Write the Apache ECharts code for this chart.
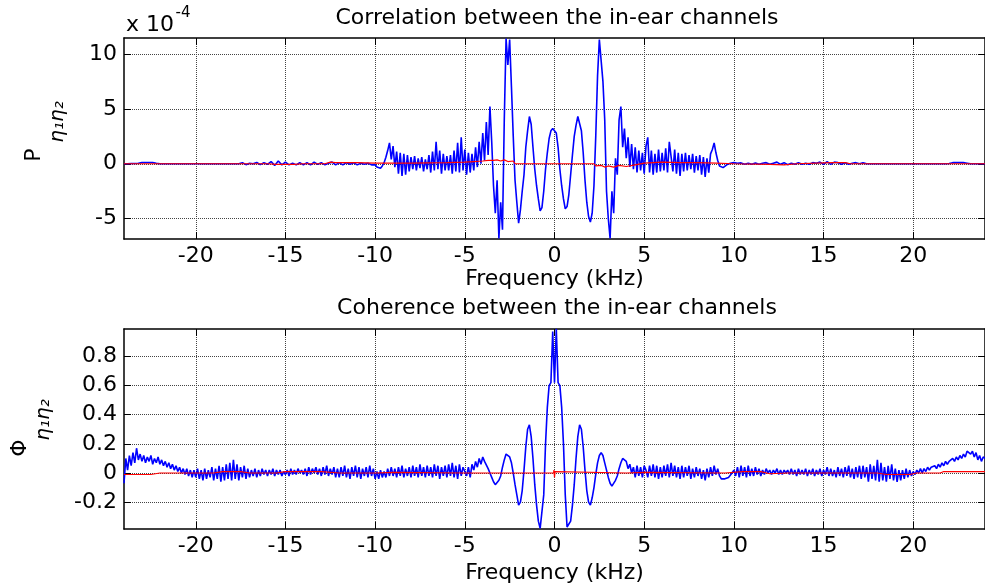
<!DOCTYPE html>
<html lang="en">
<head>
<meta charset="UTF-8">
<title>In-ear channels</title>
<script src="https://cdn.jsdelivr.net/npm/echarts@6/dist/echarts.min.js"></script>
<style>
html, body { margin: 0; padding: 0; background: #fff; }
#chart { width: 985px; height: 585px; }
</style>
</head>
<body>
<div id="chart"></div>
<script>
// tick positions
var freqTicks = [-20, -15, -10, -5, 0, 5, 10, 15, 20];
var corrTicks = [-5, 0, 5, 10];               // x 10^-4
var cohTicks = [-0.2, 0, 0.2, 0.4, 0.6, 0.8];

// correlation (x 10^-4), blue trace
// -24.0 .. -10.2 kHz every 0.2
var corrLeft = [
  0, 0, 0.02, 0.02, 0.05, 0.12, 0.12, 0.12, 0.12, 0.05,
  0, 0, 0, 0, 0, 0, 0, 0, 0, 0,
  0, 0, 0, 0, 0, 0, 0, 0, 0, 0,
  0, 0, 0, 0.1, -0.08, 0.05, 0, 0.12, -0.08, 0.1,
  -0.05, 0.2, -0.15, 0.25, -0.1, 0.15, -0.1, 0.05, -0.1, 0.1,
  -0.1, 0.1, -0.1, 0.15, -0.05, 0.1, -0.1, 0.05, 0.15, -0.1,
  0.1, -0.1, 0.1, -0.05, 0.1, -0.1, 0.05, -0.05, 0.05, -0.1
];
// -10.0 .. 10.0 kHz every 0.1
var corrCore = [
  -0.1, -0.3, -0.45, -0.4, -0.2, 0.1, 0.6, 1.2, 1.9, 0.4,
  1.6, -0.3, 1.1, -0.9, 1.0, -1.1, 0.9, -1.0, 0.8, -0.7,
  0.6, -0.5, 0.7, -0.6, 0.5, -0.4, 0.6, -0.7, 0.4, -0.5,
  0.8, -0.8, 1.1, -0.6, 2.0, -0.5, 1.2, -0.9, 0.9, -0.6,
  0.7, -0.6, 0.8, -0.9, 1.2, -0.7, 1.9, -0.8, 2.4, -0.6,
  1.3, -1.0, 1.0, -0.8, 0.9, -0.6, 1.5, -0.3, 2.0, 0.0,
  2.8, 0.3, 3.8, 0.8, 5.2, 2.0, -2.0, -4.5, -1.5, -6.8,
  -3.5, -6.0, 4.0, 11.4, 9.0, 11.3, 7.0, 2.5, -1.5, -3.5,
  -5.4, -4.2, -2.5, -1.0, 1.5, 3.0, 4.3, 3.6, 1.5, -0.5,
  -2.0, -3.2, -4.3, -4.0, -2.5, -0.5, 1.0, 2.3, 3.0, 3.2,
  3.1, 2.8, 1.5, -0.5, -2.0, -3.2, -4.1, -3.9, -2.8, -1.0,
  0.8, 2.5, 3.5, 4.3, 4.2, 3.0, 1.0, -1.5, -3.5, -4.8,
  -5.3, -4.5, -2.0, 2.5, 8.0, 11.3, 11.4, 7.5, 4.0, -2.5,
  -5.0, -6.8, -2.5, -4.5, 0.5, -1.0, 4.0, 5.2, 1.5, 3.2,
  0.5, 2.4, -0.3, 1.8, -0.5, 1.5, -0.8, 1.2, -0.6, 1.0,
  -0.9, 1.6, 2.4, -0.8, 1.2, -1.0, 0.9, -0.8, 1.3, -0.7,
  1.0, -0.6, 1.4, -0.8, 2.0, 2.1, -0.7, 1.3, -0.9, 1.0,
  -1.1, 0.9, -0.7, 1.0, -0.6, 0.8, -0.5, 0.9, -0.8, 0.7,
  -0.6, 0.8, -1.0, 0.6, -1.2, 0.5, -0.8, 0.9, 1.3, 1.9,
  1.0, 0.3, -0.2, -0.3, -0.35, -0.2, -0.1, 0, 0.05, 0.05,
  0.1
];
// 10.2 .. 24.0 kHz every 0.2
var corrRight = [
  0.05, 0.08, -0.05, 0.05, -0.05, 0.08, -0.05, 0.05, 0.1, -0.05,
  0.05, 0.15, -0.05, 0.1, -0.08, 0.05, -0.05, 0.1, -0.05, 0.05,
  -0.05, 0.1, 0.05, 0.15, -0.05, 0.2, -0.05, 0.15, 0.1, -0.05,
  0.1, -0.05, 0.05, 0.1, 0, 0.08, 0, 0, 0, 0,
  0, 0, 0, 0, 0, 0, 0, 0, 0, 0,
  0, 0, 0, 0, 0, 0, 0, 0, 0, 0.02,
  0.1, 0.1, 0.1, 0.1, 0.05, 0, 0, 0, 0, 0
];
// correlation, red trace [kHz, x 10^-4]
var corrRed = [
  [-24, 0], [-16, 0], [-15.5, -0.05], [-14.5, -0.05], [-14, 0], [-12.8, 0], [-12.5, 0.15],
  [-12.2, 0.1], [-11, 0.1], [-10, 0.05], [-8, 0.05], [-6, 0.1], [-5, 0.15], [-4.5, 0.2],
  [-4.0, 0.25], [-3.7, 0.3], [-3.6, 0.15], [-3.4, 0.3], [-3.2, 0.35], [-3.0, 0.25],
  [-2.8, 0.35], [-2.6, 0.2], [-2.3, 0.25], [-2.2, 0], [2.2, 0], [2.3, -0.2], [2.6, -0.15],
  [2.8, -0.3], [3.0, -0.2], [3.3, -0.3], [3.6, -0.15], [4.0, -0.25], [4.5, -0.1], [5.0, 0.05],
  [6, 0.15], [7, 0.1], [8, 0.1], [9, 0.05], [10, 0], [12, -0.05], [12.8, -0.1], [13.5, 0],
  [15.5, 0.1], [16.2, 0.1], [16.5, 0], [24, 0]
];

// coherence, blue trace
// -24.0 .. -5.1 kHz every 0.1
var cohLeft = [
  -0.07, 0.1, 0.02, 0.12, 0.05, 0.14, 0.07, 0.17, 0.09, 0.13,
  0.08, 0.12, 0.07, 0.11, 0.08, 0.12, 0.06, 0.1, 0.07, 0.11,
  0.06, 0.09, 0.05, 0.08, 0.04, 0.07, 0.03, 0.06, 0.02, 0.05,
  0.01, 0.04, 0.0, 0.03, -0.01, 0.03, -0.02, 0.02, -0.03, 0.02,
  -0.03, 0.03, -0.04, 0.02, -0.05, 0.03, -0.04, 0.02, -0.03, 0.04,
  -0.05, 0.03, -0.04, 0.05, -0.06, 0.04, -0.05, 0.06, -0.04, 0.07,
  -0.05, 0.09, -0.04, 0.06, -0.05, 0.04, -0.03, 0.05, -0.04, 0.03,
  -0.03, 0.02, -0.02, 0.03, -0.03, 0.02, -0.02, 0.03, -0.01, 0.02,
  -0.02, 0.02, -0.01, 0.03, -0.02, 0.02, -0.01, 0.02, -0.02, 0.01,
  -0.01, 0.02, -0.02, 0.03, -0.01, 0.02, -0.01, 0.03, 0.0, 0.02,
  -0.01, 0.03, -0.02, 0.04, -0.01, 0.03, 0.0, 0.04, -0.01, 0.03,
  -0.02, 0.04, -0.01, 0.05, -0.02, 0.03, -0.01, 0.04, -0.03, 0.03,
  -0.03, 0.04, -0.02, 0.05, -0.03, 0.03, -0.04, 0.04, -0.02, 0.05,
  -0.03, 0.04, -0.04, 0.03, -0.02, 0.04, -0.03, 0.05, -0.02, 0.03,
  -0.04, 0.01, -0.04, 0.02, -0.03, 0.01, -0.03, 0.03, -0.02, 0.04,
  -0.02, 0.03, -0.03, 0.04, -0.02, 0.05, -0.03, 0.03, -0.02, 0.04,
  -0.03, 0.05, -0.02, 0.04, -0.03, 0.06, -0.02, 0.04, -0.03, 0.05,
  -0.02, 0.04, -0.03, 0.06, -0.02, 0.05, -0.04, 0.04, -0.02, 0.05,
  -0.03, 0.06, -0.02, 0.07, -0.03, 0.05, -0.04, 0.06, -0.02, 0.04
];
// -5.0 .. 5.0 kHz every 0.1
var cohCore = [
  0.05, -0.02, 0.04, -0.03, 0.06, 0.02, 0.08, 0.04, 0.1, 0.06,
  0.11, 0.08, 0.07, 0.03, 0.0, -0.03, -0.06, -0.08, -0.09, -0.05,
  -0.02, 0.04, 0.09, 0.13, 0.14, 0.11, 0.07, 0.0, -0.08, -0.15,
  -0.22, -0.2, -0.12, 0.02, 0.18, 0.3, 0.33, 0.25, 0.1, -0.08,
  -0.22, -0.33, -0.38, -0.37, -0.15, 0.2, 0.45, 0.6, 0.62, 0.97,
  0.62, 0.99, 0.62, 0.6, 0.45, 0.2, -0.15, -0.37, -0.38, -0.33,
  -0.22, -0.08, 0.1, 0.25, 0.33, 0.3, 0.18, 0.02, -0.12, -0.2,
  -0.22, -0.17, -0.1, -0.01, 0.07, 0.12, 0.14, 0.12, 0.07, 0.02,
  -0.03, -0.07, -0.09, -0.08, -0.05, -0.02, 0.03, 0.07, 0.1, 0.11,
  0.08, 0.03, 0.06, 0.0, 0.04, -0.03, 0.05, -0.02, 0.04, -0.03,
  0.05
];
// 5.1 .. 24.0 kHz every 0.1
var cohRight = [
  0.02, -0.03, 0.05, -0.02, 0.06, -0.03, 0.05, -0.04, 0.04, -0.03,
  0.05, -0.02, 0.06, -0.03, 0.07, -0.02, 0.05, -0.03, 0.04, -0.04,
  0.05, -0.03, 0.04, -0.02, 0.05, -0.04, 0.03, -0.03, 0.04, -0.02,
  0.03, -0.04, 0.02, -0.05, 0.03, -0.03, 0.04, -0.02, 0.05, -0.01,
  0.03, -0.02, -0.04, -0.05, -0.04, -0.05, -0.03, -0.02, 0.0, 0.02,
  -0.02, 0.04, -0.03, 0.05, -0.02, 0.04, -0.03, 0.05, -0.02, 0.03,
  -0.02, 0.04, -0.01, 0.03, -0.02, 0.02, -0.01, 0.03, 0.0, 0.02,
  -0.01, 0.02, 0.0, 0.03, -0.01, 0.02, -0.01, 0.02, 0.0, 0.02,
  -0.01, 0.03, -0.01, 0.02, -0.02, 0.03, -0.01, 0.02, -0.01, 0.03,
  -0.02, 0.02, -0.01, 0.03, -0.02, 0.02, -0.01, 0.03, -0.02, 0.02,
  -0.01, 0.04, -0.02, 0.03, -0.02, 0.02, -0.03, 0.04, -0.02, 0.03,
  -0.03, 0.04, -0.02, 0.05, -0.03, 0.03, -0.04, 0.04, -0.03, 0.05,
  -0.04, 0.05, -0.03, 0.04, -0.06, 0.06, -0.04, 0.05, -0.05, 0.09,
  -0.06, 0.07, -0.05, 0.04, -0.06, 0.05, -0.04, 0.06, -0.05, 0.03,
  -0.06, 0.02, -0.05, 0.02, -0.04, 0.03, -0.03, 0.02, -0.02, 0.01,
  -0.01, 0.02, 0.0, 0.03, 0.0, 0.03, 0.01, 0.04, 0.02, 0.04,
  0.03, 0.05, 0.03, 0.06, 0.04, 0.07, 0.05, 0.08, 0.06, 0.08,
  0.07, 0.1, 0.08, 0.11, 0.09, 0.12, 0.1, 0.13, 0.11, 0.15,
  0.16, 0.13, 0.15, 0.11, 0.14, 0.09, 0.12, 0.08, 0.11, 0.1
];
// coherence, red trace [kHz, value]
var cohRed = [
  [-24, -0.01], [-22.5, -0.01], [-22, 0], [-19, 0], [-18.5, 0.01], [-17.5, 0.01], [-17, 0],
  [-15.5, 0], [-15, 0.01], [-13, 0.01], [-12, 0], [-10, 0], [-9, 0.005], [-5, 0],
  [-0.05, 0], [-0.03, 0.02], [0, -0.03], [0.03, 0.01], [0.05, 0], [4, 0], [5, 0.005],
  [9.5, 0], [10.5, 0.01], [11.5, 0.01], [12, -0.005], [13, 0], [18, 0], [18.5, -0.01],
  [19.8, -0.01], [20.2, 0], [21.5, 0], [21.7, 0.01], [24, 0.01]
];

function block(start, step, vals) {
  return vals.map(function (v, i) { return [+(start + step * i).toFixed(2), v]; });
}
var corrBlue = block(-24, 0.2, corrLeft).concat(block(-10, 0.1, corrCore), block(10.2, 0.2, corrRight));
var cohBlue = block(-24, 0.1, cohLeft).concat(block(-5, 0.1, cohCore), block(5.1, 0.1, cohRight));

var FONT = 'DejaVu Sans';
var txt = { color: '#000', fontFamily: FONT, fontSize: 22 };

function xAx(grid, pos, main, gap) {
  return {
    type: 'value', gridIndex: grid, position: pos, min: -24, max: 24,
    axisLine: { show: true, onZero: false, lineStyle: { color: '#000', width: 1.5 } },
    axisTick: { show: true, inside: true, length: 7, customValues: freqTicks, lineStyle: { color: '#000' } },
    axisLabel: Object.assign({ show: main, margin: 6, customValues: freqTicks }, txt),
    splitLine: { show: main, lineStyle: { color: '#444', type: 'dotted', width: 1 } },
    name: main ? 'Frequency (kHz)' : '', nameLocation: 'middle', nameGap: gap,
    nameTextStyle: txt
  };
}
function yAx(grid, pos, main, lo, hi, ticks) {
  return {
    type: 'value', gridIndex: grid, position: pos, min: lo, max: hi,
    axisLine: { show: true, onZero: false, lineStyle: { color: '#000', width: 1.5 } },
    axisTick: { show: true, inside: true, length: 7, customValues: ticks, lineStyle: { color: '#000' } },
    axisLabel: Object.assign({ show: main, margin: 7, customValues: ticks }, txt),
    splitLine: { show: main, lineStyle: { color: '#444', type: 'dotted', width: 1 } }
  };
}
function line(data, color, width, xi, yi) {
  return {
    type: 'line', data: data, xAxisIndex: xi, yAxisIndex: yi,
    showSymbol: false, symbol: 'none', silent: true,
    lineStyle: { color: color, width: width }
  };
}
function label(x, y, text, font, extra) {
  return Object.assign({
    type: 'text', x: x, y: y,
    style: {
      text: text, font: font, fill: '#000',
      align: 'center', verticalAlign: 'middle', textAlign: 'center', textVerticalAlign: 'middle'
    }
  }, extra || {});
}
var F22 = '22px "DejaVu Sans"';
var SUB = 'italic 20px "DejaVu Sans"';

var chart = echarts.init(document.getElementById('chart'), null, { renderer: 'canvas' });
chart.setOption({
  animation: false,
  backgroundColor: '#fff',
  grid: [
    { left: 124, right: -5, top: 38, height: 201 },
    { left: 124, right: -5, top: 329, height: 201 }
  ],
  xAxis: [xAx(0, 'bottom', true, 26), xAx(0, 'top', false, 0), xAx(1, 'bottom', true, 33), xAx(1, 'top', false, 0)],
  yAxis: [
    yAx(0, 'left', true, -6.85, 11.45, corrTicks), yAx(0, 'right', false, -6.85, 11.45, corrTicks),
    yAx(1, 'left', true, -0.384, 0.988, cohTicks), yAx(1, 'right', false, -0.384, 0.988, cohTicks)
  ],
  series: [
    line(corrBlue, '#0000ff', 1.6, 0, 0),
    line(corrRed, '#ff0000', 1.2, 0, 0),
    line(cohBlue, '#0000ff', 1.6, 2, 2),
    line(cohRed, '#ff0000', 1.2, 2, 2)
  ],
  graphic: [
    label(557, 18, 'Correlation between the in-ear channels', F22),
    label(557, 308, 'Coherence between the in-ear channels', F22),
    label(150, 25, 'x 10', F22),
    label(183, 13, '-4', '15px "DejaVu Sans"'),
    label(34, 155, 'P', F22, { rotation: Math.PI / 2 }),
    label(58, 122, 'η₁η₂', SUB, { rotation: Math.PI / 2 }),
    label(20, 448, 'Φ', F22, { rotation: Math.PI / 2 }),
    label(44, 420, 'η₁η₂', SUB, { rotation: Math.PI / 2 })
  ]
});
</script>
</body>
</html>
